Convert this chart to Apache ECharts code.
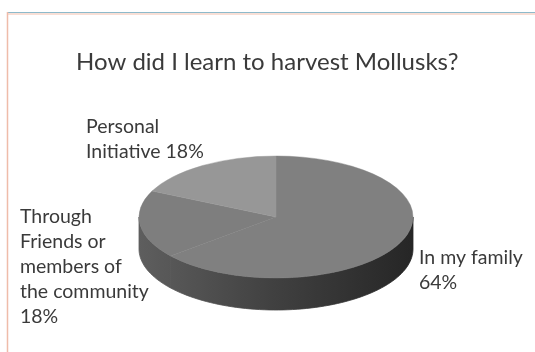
<!DOCTYPE html>
<html>
<head>
<meta charset="utf-8">
<style>
  html, body { margin: 0; padding: 0; background: #ffffff; }
  #chart { width: 535px; height: 352px; }
</style>
<script src="https://cdn.jsdelivr.net/npm/echarts@6/dist/echarts.min.js"></script>
</head>
<body>
<div id="chart"></div>
<script>
// Survey answers and their shares (percent)
const categories = ['In my family', 'Through\nFriends or\nmembers of\nthe community', 'Personal\nInitiative'];
const shares = [64, 18, 18];
// how the value is joined to the category name in each label
const labelJoin = ['\n', '\n', ' '];

// label anchor (top-left of text block) for each slice
const labelAnchor = [[419, 245], [20, 204], [86, 114]];

// pie geometry: tilted disc
const PIE = { cx: 276, cy: 217, rx: 137, ry: 61, depth: 32 };
const topColors = ['#808080', '#7e7e7e', '#979797'];

const total = shares.reduce((a, b) => a + b, 0);
const startDeg = [];
let acc = 0;
shares.forEach(v => { startDeg.push(acc / total * 360); acc += v; });

function rimPoint(deg, dy) {
  const t = deg * Math.PI / 180;
  return [PIE.cx + PIE.rx * Math.sin(t), PIE.cy - PIE.ry * Math.cos(t) + (dy || 0)];
}

function sideGradient() {
  return new echarts.graphic.LinearGradient(PIE.cx - PIE.rx, 0, PIE.cx + PIE.rx, 0, [
    { offset: 0, color: '#5e5e5e' },
    { offset: 0.5, color: '#404040' },
    { offset: 1, color: '#262626' }
  ], true);
}

function renderSide(params, api) {
  const i = params.dataIndex;
  const a0 = startDeg[i];
  const a1 = a0 + api.value(0) / total * 360;
  const s = Math.max(a0, 90), e = Math.min(a1, 270);
  if (e <= s) return null;
  const top = [], bottom = [];
  const steps = Math.max(8, Math.ceil((e - s) / 2));
  for (let k = 0; k <= steps; k++) {
    const d = s + (e - s) * k / steps;
    top.push(rimPoint(d, 0));
    bottom.push(rimPoint(d, PIE.depth));
  }
  return {
    type: 'polygon',
    shape: { points: top.concat(bottom.reverse()) },
    style: { fill: sideGradient(), stroke: sideGradient(), lineWidth: 0.8 }
  };
}

function renderTop(params, api) {
  const i = params.dataIndex;
  const a0 = startDeg[i];
  const a1 = a0 + api.value(0) / total * 360;
  const rad = d => (d - 90) * Math.PI / 180;
  const txt = categories[i] + labelJoin[i] + api.value(0) + '%';
  return {
    type: 'group',
    children: [
      {
        type: 'sector',
        shape: { cx: PIE.cx, cy: PIE.cy, r: PIE.rx, r0: 0, startAngle: rad(a0), endAngle: rad(a1), clockwise: true },
        originX: PIE.cx, originY: PIE.cy,
        scaleY: PIE.ry / PIE.rx,
        style: { fill: topColors[i], stroke: topColors[i], lineWidth: 0.6 }
      },
      {
        type: 'text',
        x: labelAnchor[i][0], y: labelAnchor[i][1],
        style: {
          text: txt,
          fill: '#3a3a3a',
          fontFamily: 'Lato',
          fontSize: 19.5,
          lineHeight: 25,
          textAlign: 'left',
          textVerticalAlign: 'top'
        }
      }
    ]
  };
}

const chart = echarts.init(document.getElementById('chart'), null, { renderer: 'canvas' });
const seriesData = shares.map((v, i) => ({ name: categories[i], value: [v] }));

chart.setOption({
  backgroundColor: '#ffffff',
  animation: false,
  title: {
    text: 'How did I learn to harvest Mollusks?',
    left: 71,
    top: 45,
    textStyle: { fontFamily: 'Lato', fontSize: 24, fontWeight: 'normal', color: '#3a3a3a' }
  },
  graphic: [
    { type: 'line', shape: { x1: 7, y1: 12.5, x2: 535, y2: 12.5 }, style: { stroke: '#8dbacb', lineWidth: 1 } },
    { type: 'line', shape: { x1: 8, y1: 14, x2: 535, y2: 14 }, style: { stroke: '#f6d4c8', lineWidth: 1.5 } },
    { type: 'line', shape: { x1: 7.5, y1: 12, x2: 7.5, y2: 352 }, style: { stroke: '#efbcaa', lineWidth: 1.5 } }
  ],
  series: [
    { type: 'custom', coordinateSystem: 'none', renderItem: renderSide, data: seriesData, z: 1, silent: true },
    { type: 'custom', coordinateSystem: 'none', renderItem: renderTop, data: seriesData, z: 2, silent: true }
  ]
});
</script>
</body>
</html>
